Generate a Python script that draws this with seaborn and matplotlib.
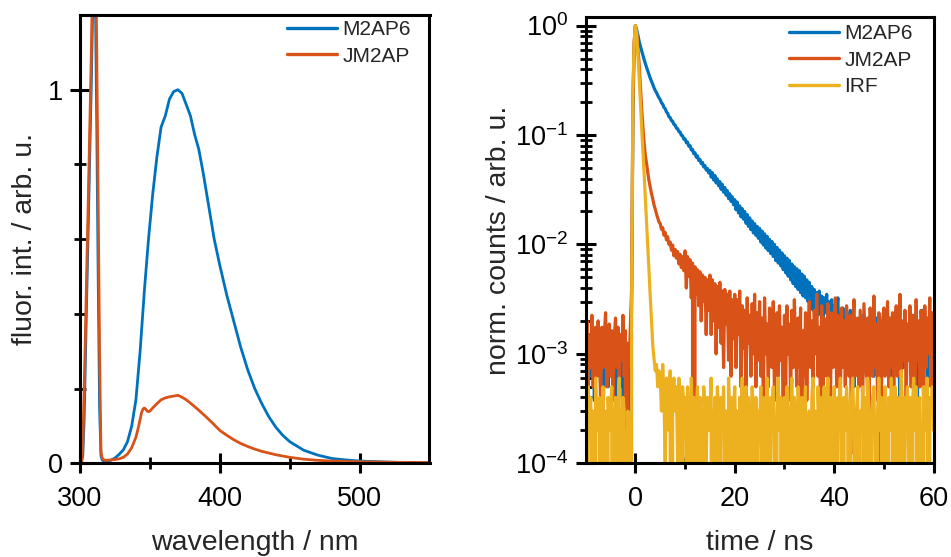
import numpy as np
import matplotlib
matplotlib.use("Agg")
import matplotlib.pyplot as plt
import seaborn as sns
from matplotlib.ticker import LogLocator, NullFormatter

sns.set_theme(style="white")
plt.rcParams['font.family'] = ['Liberation Sans', 'DejaVu Sans']
plt.rcParams['mathtext.fontset'] = 'custom'
plt.rcParams['mathtext.rm'] = 'Liberation Sans'
plt.rcParams['mathtext.it'] = 'Liberation Sans:italic'
plt.rcParams['mathtext.bf'] = 'Liberation Sans:bold'

BLUE = '#0072BD'
ORANGE = '#D95319'
YELLOW = '#EDB120'

# ---------------- left panel: fluorescence spectra ----------------
wl_m2ap6 = [300, 301, 302, 303, 304, 305, 306, 307, 308, 309, 310, 311, 312, 313, 314, 315, 316,
            318, 320, 322, 325, 328, 331, 334, 337, 340, 343, 346, 349, 352, 355, 358, 361, 364,
            367, 370, 373, 376, 379, 382, 385, 388, 392, 396, 400, 405, 410, 415, 420, 425, 430,
            435, 440, 445, 450, 460, 470, 480, 490, 500, 515, 530, 550]
fl_m2ap6 = [0.0, 0.0, 0.02, 0.12, 0.3, 0.48, 0.65, 0.83, 1.0, 1.2, 1.4, 1.25, 0.9, 0.5, 0.15, 0.02, 0.008,
            0.005, 0.006, 0.008, 0.014, 0.024, 0.036, 0.058, 0.10, 0.17, 0.30, 0.46, 0.60, 0.72, 0.82, 0.90, 0.93, 0.975,
            0.995, 1.0, 0.99, 0.96, 0.93, 0.88, 0.84, 0.78, 0.69, 0.60, 0.53, 0.45, 0.38, 0.31, 0.25, 0.20, 0.16,
            0.125, 0.097, 0.075, 0.058, 0.035, 0.022, 0.013, 0.009, 0.006, 0.004, 0.002, 0.001]

wl_jm2ap = [300, 301, 302, 303, 304, 305, 306, 307, 308, 309, 310, 311, 312, 313, 314, 315, 316, 318,
            322, 325, 328, 331, 334, 337, 340, 342, 344, 345, 346, 347, 348, 349, 350, 352, 354, 356,
            358, 361, 364, 367, 370, 373, 376, 380, 385, 390, 395, 400, 405, 410, 415, 420, 425, 430,
            440, 450, 460, 470, 480, 500, 520, 550]
fl_jm2ap = [0.0, 0.0, 0.05, 0.2, 0.37, 0.55, 0.72, 0.9, 1.08, 1.3, 1.6, 1.45, 1.1, 0.7, 0.3, 0.03, 0.012, 0.008,
            0.009, 0.010, 0.012, 0.016, 0.025, 0.042, 0.07, 0.10, 0.135, 0.145, 0.148, 0.145, 0.14, 0.138, 0.14, 0.148, 0.156, 0.163,
            0.17, 0.175, 0.178, 0.18, 0.182, 0.177, 0.17, 0.158, 0.142, 0.125, 0.107, 0.088, 0.075, 0.063, 0.053, 0.045, 0.038, 0.032,
            0.023, 0.016, 0.011, 0.008, 0.006, 0.004, 0.003, 0.002]

# ---------------- right panel: TCSPC decays (raw counts per 0.25 ns channel) ----------------
t_start, t_step, n_ch = -10.0, 0.25, 281

counts_m2ap6 = [
    6, 9, 4, 7, 11, 5, 8, 3, 10, 6, 7, 12, 5, 8, 2, 9, 6, 10, 4, 7,
    8, 5, 11, 6, 9, 3, 7, 10, 4, 8, 6, 0, 9, 5, 7, 0, 6, 24, 1200, 5200,
    8000, 7360, 6560, 5760, 5200, 4720, 4320, 3920, 3600, 3320, 3080, 2840, 2640, 2480, 2320, 2160, 2040, 1950, 1840, 1750,
    1680, 1575, 1530, 1430, 1390, 1300, 1262, 1175, 1155, 1082, 1068, 1000, 988, 925, 915, 860, 851, 796, 787, 733,
    738, 680, 690, 632, 640, 585, 592, 540, 550, 502, 515, 468, 478, 437, 450, 408, 421, 383, 396, 360,
    380, 330, 362, 310, 342, 292, 318, 275, 300, 255, 283, 240, 265, 226, 248, 210, 232, 198, 218, 184,
    205, 166, 195, 155, 180, 143, 170, 136, 160, 125, 150, 117, 140, 109, 131, 102, 124, 97, 117, 91,
    112, 84, 106, 79, 100, 74, 95, 70, 89, 66, 85, 62, 80, 57, 75, 54, 71, 51, 67, 47,
    63, 44, 60, 41, 57, 38, 53, 35, 50, 33, 48, 31, 46, 29, 43, 27, 41, 26, 38, 24,
    36, 22, 33, 20, 31, 24, 29, 18, 30, 21, 27, 15, 26, 19, 28, 16, 24, 18, 25, 14,
    22, 13, 19, 26, 11, 17, 9, 21, 15, 12, 18, 7, 16, 20, 10, 14, 4, 17, 12, 9,
    15, 8, 13, 18, 6, 12, 10, 3, 16, 9, 14, 11, 5, 13, 17, 8, 12, 0, 10, 14,
    9, 13, 6, 16, 11, 4, 14, 8, 12, 19, 7, 10, 15, 2, 11, 13, 6, 17, 9, 12,
    10, 14, 5, 12, 18, 8, 11, 3, 15, 9, 13, 20, 7, 12, 16, 4, 10, 14, 8, 11,
    9]

counts_jm2ap = [
    9, 16, 4, 12, 6, 18, 4, 11, 14, 5, 16, 8, 3, 14, 6, 12, 19, 4, 10, 15,
    5, 13, 3, 11, 17, 6, 14, 4, 12, 7, 18, 5, 13, 0, 10, 6, 15, 32, 1600, 5600,
    8000, 6800, 4960, 3600, 2240, 1440, 960, 680, 520, 440, 360, 304, 264, 232, 208, 184, 168, 152, 140, 128,
    124, 110, 114, 97, 103, 88, 94, 80, 84, 71, 79, 63, 72, 60, 69, 53, 65, 49, 62, 46,
    70, 32, 62, 41, 58, 26, 54, 0, 50, 28, 47, 22, 45, 16, 42, 24, 40, 12, 38, 20,
    42, 12, 38, 16, 35, 8, 33, 14, 36, 10, 30, 6, 31, 15, 28, 7, 30, 5, 25, 11,
    28, 6, 25, 12, 30, 4, 22, 9, 20, 3, 26, 10, 18, 5, 23, 8, 28, 4, 19, 7,
    24, 5, 17, 3, 26, 8, 15, 4, 21, 9, 6, 24, 3, 16, 19, 5, 22, 7, 14, 2,
    18, 4, 22, 8, 15, 3, 20, 6, 25, 9, 4, 17, 6, 21, 0, 13, 5, 19, 3, 12,
    24, 6, 16, 4, 20, 8, 28, 5, 14, 3, 22, 3, 17, 7, 5, 23, 9, 3, 19, 6,
    15, 26, 4, 18, 7, 3, 21, 6, 16, 4, 22, 9, 5, 18, 1, 14, 25, 5, 12, 17,
    4, 20, 8, 3, 23, 11, 5, 17, 2, 21, 9, 5, 27, 6, 15, 3, 19, 10, 3, 16,
    21, 5, 13, 24, 4, 17, 6, 19, 3, 14, 22, 5, 9, 28, 4, 16, 7, 20, 3, 15,
    7, 22, 4, 18, 10, 2, 25, 7, 16, 4, 20, 11, 3, 22, 6, 17, 8, 26, 4, 19,
    12]

counts_irf = [
    3, 0, 5, 2, 4, 1, 3, 0, 6, 2, 3, 4, 0, 2, 5, 1, 3, 0, 4, 2,
    3, 5, 0, 2, 4, 1, 3, 6, 0, 2, 4, 3, 0, 1, 3, 2, 0, 30, 2500, 7000,
    10000, 8500, 5500, 3500, 2000, 1200, 750, 450, 270, 160, 95, 55, 33, 20, 12, 9, 7, 8, 5, 7,
    6, 3, 8, 4, 1, 6, 5, 2, 7, 0, 4, 6, 3, 5, 1, 6, 4, 0, 5, 3,
    4, 1, 5, 3, 0, 6, 2, 4, 0, 3, 5, 1, 4, 2, 0, 5, 3, 1, 4, 2,
    3, 6, 0, 2, 4, 1, 5, 3, 0, 4, 2, 5, 1, 3, 0, 6, 2, 4, 0, 3,
    5, 1, 3, 0, 4, 2, 6, 0, 3, 5, 1, 4, 0, 2, 5, 3, 0, 4, 1, 3,
    2, 5, 0, 4, 3, 1, 6, 2, 0, 4, 3, 5, 1, 0, 3, 6, 2, 4, 0, 3,
    4, 1, 5, 2, 0, 3, 6, 1, 4, 0, 2, 5, 3, 0, 4, 1, 3, 5, 0, 2,
    3, 0, 4, 6, 1, 3, 0, 5, 2, 4, 0, 3, 5, 1, 2, 6, 0, 4, 3, 1,
    5, 2, 0, 4, 3, 6, 1, 0, 4, 2, 5, 3, 0, 1, 4, 6, 2, 0, 3, 5,
    0, 3, 2, 5, 1, 4, 0, 6, 3, 0, 2, 4, 5, 1, 0, 3, 6, 2, 4, 0,
    3, 5, 1, 0, 4, 2, 6, 3, 0, 5, 1, 4, 0, 2, 7, 3, 0, 4, 2, 5,
    1, 4, 0, 3, 6, 2, 5, 0, 3, 4, 1, 0, 5, 3, 2, 6, 0, 4, 3, 5,
    2]

time_ns = t_start + t_step * np.arange(n_ch)


def norm(c):
    c = np.asarray(c, dtype=float)
    return c / c.max()


# ---------------- figure ----------------
W, H = 951, 557
fig = plt.figure(figsize=(W / 100, H / 100), dpi=100)
ax1 = fig.add_axes([80 / W, 1 - 463.3 / H, 349.5 / W, 448.3 / H])
ax2 = fig.add_axes([585.7 / W, 1 - 463.3 / H, 347.8 / W, 446.0 / H])

LW1 = 2.0
LW2 = 2.3
sns.lineplot(x=wl_m2ap6, y=fl_m2ap6, ax=ax1, color=BLUE, linewidth=LW1, label='M2AP6',
             sort=False, estimator=None)
sns.lineplot(x=wl_jm2ap, y=fl_jm2ap, ax=ax1, color=ORANGE, linewidth=LW1, label='JM2AP',
             sort=False, estimator=None)

sns.lineplot(x=time_ns, y=norm(counts_m2ap6), ax=ax2, color=BLUE, linewidth=LW2, label='M2AP6',
             sort=False, estimator=None)
sns.lineplot(x=time_ns, y=norm(counts_jm2ap), ax=ax2, color=ORANGE, linewidth=LW2, label='JM2AP',
             sort=False, estimator=None)
sns.lineplot(x=time_ns, y=norm(counts_irf), ax=ax2, color=YELLOW, linewidth=LW2, label='IRF',
             sort=False, estimator=None)

# left axes
ax1.set_xlim(300, 550)
ax1.set_ylim(0, 1.2)
ax1.set_xticks([300, 400, 500])
ax1.set_xticks([350, 450], minor=True)
ax1.set_yticks([0, 1])
ax1.set_yticklabels(['0', '1'])
ax1.set_yticks([0.2, 0.4, 0.6, 0.8], minor=True)
ax1.set_xlabel('wavelength / nm', fontsize=20.5, labelpad=13)
ax1.set_ylabel('fluor. int. / arb. u.', fontsize=20.5, labelpad=6.5)

# right axes
ax2.set_yscale('log')
ax2.set_xlim(-10, 60)
ax2.set_ylim(1e-4, 1.19)
ax2.set_xticks([0, 20, 40, 60])
ax2.set_xticks([10, 30, 50], minor=True)
ax2.yaxis.set_major_locator(LogLocator(base=10, numticks=10))
ax2.yaxis.set_minor_locator(LogLocator(base=10, subs=np.arange(2, 10), numticks=20))
ax2.yaxis.set_minor_formatter(NullFormatter())
ax2.set_xlabel('time / ns', fontsize=20.5, labelpad=13)
ax2.set_ylabel('norm. counts / arb. u.', fontsize=20.5, labelpad=2)

for ax in (ax1, ax2):
    ax.grid(False)
    for s in ax.spines.values():
        s.set_visible(True)
        s.set_color('black')
        s.set_linewidth(2.2)
    ax.tick_params(which='major', direction='inout', length=15, width=2.2, color='black',
                   labelsize=19.5, labelcolor='black', top=False, right=False,
                   bottom=True, left=True)
    ax.tick_params(which='minor', direction='inout', length=8, width=2.0, color='black',
                   top=False, right=False, bottom=True, left=True)
    ax.tick_params(axis='x', which='major', pad=9)
    ax.tick_params(axis='y', which='major', pad=5)

ax1.legend(loc='upper right', bbox_to_anchor=(0.947, 0.989), frameon=False, fontsize=15,
           handlelength=2.4, handletextpad=0.25, labelspacing=0.37, borderpad=0, borderaxespad=0)
ax2.legend(loc='upper right', bbox_to_anchor=(0.941, 0.985), frameon=False, fontsize=15,
           handlelength=2.4, handletextpad=0.25, labelspacing=0.37, borderpad=0, borderaxespad=0)
for lg in (ax1.get_legend(), ax2.get_legend()):
    for ln in lg.get_lines():
        ln.set_linewidth(2.4)

fig.savefig('out.png', dpi=100)
